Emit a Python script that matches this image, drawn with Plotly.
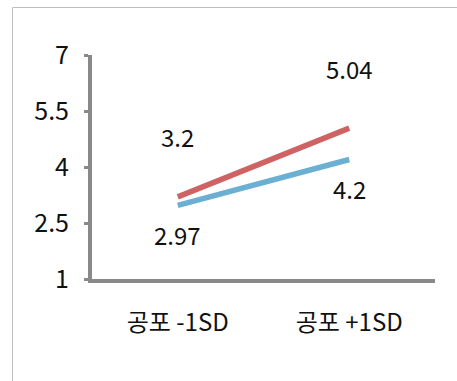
import plotly.graph_objects as go

categories = ["공포 -1SD", "공포 +1SD"]
series_red = [3.2, 5.04]
series_blue = [2.97, 4.2]
y_ticks = [1, 2.5, 4, 5.5, 7]

FONT = "Noto Sans CJK KR"
AX = "#898989"

fig = go.Figure()
fig.add_trace(go.Scatter(x=[0, 1], y=series_blue, mode="lines",
                         line=dict(color="#6BAFD3", width=5.5), showlegend=False))
fig.add_trace(go.Scatter(x=[0, 1], y=series_red, mode="lines",
                         line=dict(color="#CF6262", width=5.5), showlegend=False))

# data labels
for i, v in enumerate(series_red):
    fig.add_annotation(x=i, y=v, text=str(v), showarrow=False, yshift=60,
                       font=dict(family=FONT, size=24, color="#111"))
for i, v in enumerate(series_blue):
    fig.add_annotation(x=i, y=v, text=str(v), showarrow=False, yshift=-29,
                       font=dict(family=FONT, size=24, color="#111"))

# outer frame
fig.add_shape(type="line", xref="paper", yref="paper",
              x0=(12.5 - 92) / 343, x1=(12.5 - 92) / 343, y0=-1, y1=(279 - 7.5) / 224,
              line=dict(color="#BFBFBF", width=1))
fig.add_shape(type="line", xref="paper", yref="paper",
              x0=(12.5 - 92) / 343, x1=1.5, y0=(279 - 7.5) / 224, y1=(279 - 7.5) / 224,
              line=dict(color="#BFBFBF", width=1))

fig.update_layout(
    width=457, height=381,
    margin=dict(l=92, r=22, t=55, b=102),
    paper_bgcolor="white", plot_bgcolor="white",
    font=dict(family=FONT, size=24, color="#111"),
    xaxis=dict(range=[-0.5, 1.5], tickvals=[0, 1], ticktext=categories,
               showline=True, linecolor=AX, linewidth=4, ticks="",
               showgrid=False, zeroline=False, ticklabelstandoff=19,
               tickfont=dict(family=FONT, size=24, color="#111")),
    yaxis=dict(range=[1, 7], tickvals=y_ticks, ticktext=[str(t) for t in y_ticks],
               showline=True, linecolor=AX, linewidth=4, ticks="outside",
               ticklen=4, tickwidth=3, tickcolor=AX,
               showgrid=False, zeroline=False, ticklabelstandoff=10,
               tickfont=dict(family=FONT, size=25, color="#111")),
)

fig.write_html("out.html")
